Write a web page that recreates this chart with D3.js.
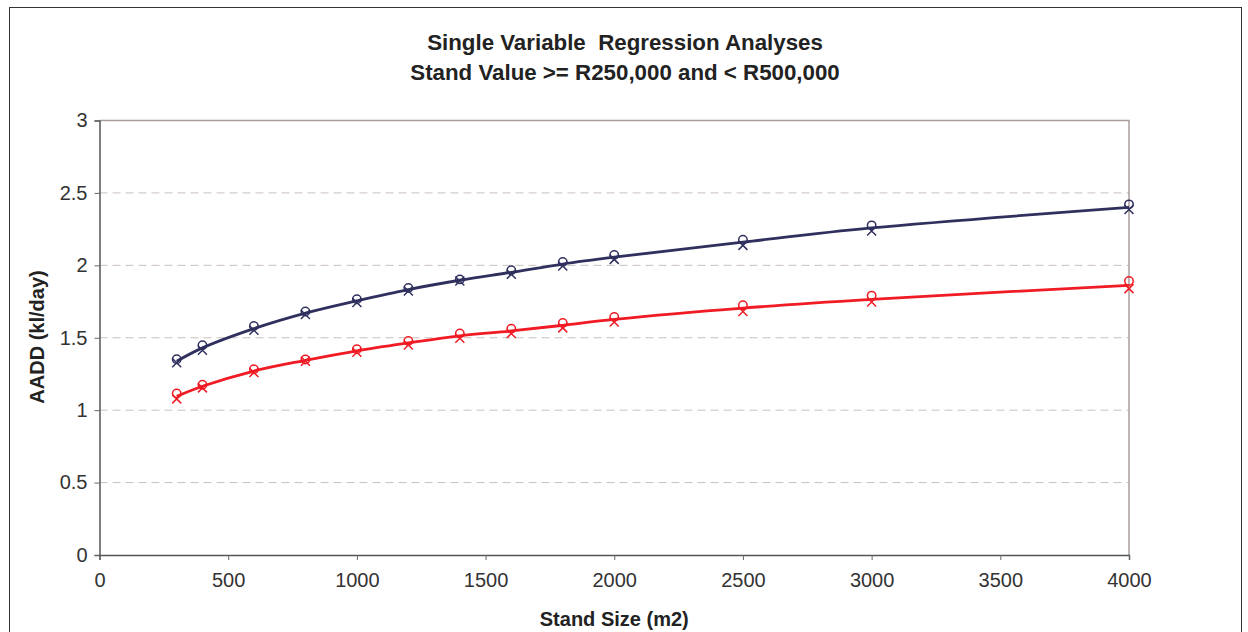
<!DOCTYPE html>
<html><head><meta charset="utf-8">
<script src="https://cdn.jsdelivr.net/npm/d3@7"></script>
<style>
html,body{margin:0;padding:0;background:#fff;}
svg{display:block;font-family:"Liberation Sans",Arial,sans-serif;}
</style></head>
<body><svg id="chart" width="1248" height="632"></svg>
<script>
const titleLines = ["Single Variable  Regression Analyses", "Stand Value >= R250,000 and < R500,000"];
const xTitle = "Stand Size (m2)";
const yTitle = "AADD (kl/day)";
const xTicks = [0, 500, 1000, 1500, 2000, 2500, 3000, 3500, 4000];
const yTicks = [0, 0.5, 1, 1.5, 2, 2.5, 3];

const standSizes = [300, 400, 600, 800, 1000, 1200, 1400, 1600, 1800, 2000, 2500, 3000, 4000];
const blueCircles = [1.352, 1.448, 1.581, 1.681, 1.766, 1.844, 1.903, 1.966, 2.023, 2.071, 2.177, 2.276, 2.421];
const blueCrosses = [1.327, 1.414, 1.552, 1.660, 1.743, 1.823, 1.892, 1.938, 1.995, 2.041, 2.138, 2.237, 2.386];
const redCircles  = [1.115, 1.175, 1.283, 1.350, 1.421, 1.478, 1.529, 1.563, 1.602, 1.644, 1.724, 1.791, 1.892];
const redCrosses  = [1.078, 1.154, 1.260, 1.338, 1.400, 1.450, 1.497, 1.529, 1.568, 1.609, 1.681, 1.747, 1.839];
const blueLine    = [1.338, 1.430, 1.563, 1.670, 1.755, 1.833, 1.897, 1.952, 2.009, 2.056, 2.160, 2.258, 2.400];
const redLine     = [1.095, 1.165, 1.270, 1.344, 1.410, 1.464, 1.513, 1.547, 1.586, 1.627, 1.705, 1.765, 1.862];

const svg = d3.select("#chart");
const L = 99.5, R = 1129, T = 120.5, B = 555;
const x = d3.scaleLinear().domain([0, 4000]).range([L, R]);
const y = d3.scaleLinear().domain([0, 3]).range([B, T]);

// outer frame
svg.append("rect").attr("x", 9.5).attr("y", 7.5).attr("width", 1232).attr("height", 640)
  .attr("fill", "#fff").attr("stroke", "#333").attr("stroke-width", 1);

// gridlines
svg.append("g").selectAll("line").data(yTicks.filter(v => v > 0 && v < 3)).join("line")
  .attr("x1", L).attr("x2", R).attr("y1", d => y(d)).attr("y2", d => y(d))
  .attr("stroke", "#c9c1bd").attr("stroke-width", 1).attr("stroke-dasharray", "8,5");

// plot border top/right
svg.append("path").attr("d", `M${L},${T}H${R}V${B}`).attr("fill", "none")
  .attr("stroke", "#a89e9c").attr("stroke-width", 1.5);

// axes
const gx = svg.append("g").attr("transform", `translate(0,${B})`)
  .call(d3.axisBottom(x).tickValues(xTicks).tickSize(5).tickPadding(13).tickFormat(d3.format("d")));
const gy = svg.append("g").attr("transform", `translate(${L},0)`)
  .call(d3.axisLeft(y).tickValues(yTicks).tickSize(5).tickPadding(7).tickFormat(d => String(d)));
[gx, gy].forEach(g => {
  g.select(".domain").attr("stroke", "#555").attr("stroke-width", 1.5);
  g.selectAll(".tick line").attr("stroke", "#666");
  g.selectAll(".tick text").attr("fill", "#333").attr("font-size", "20px")
    .attr("font-family", "Liberation Sans, Arial, sans-serif");
});

// lines
const lineGen = d3.line().x((d, i) => x(standSizes[i])).y(d => y(d)).curve(d3.curveCatmullRom.alpha(0.5));
svg.append("path").datum(blueLine).attr("d", lineGen).attr("fill", "none")
  .attr("stroke", "#30305f").attr("stroke-width", 2.8);
svg.append("path").datum(redLine).attr("d", lineGen).attr("fill", "none")
  .attr("stroke", "#f01b24").attr("stroke-width", 2.8);

function circles(vals, color) {
  svg.append("g").selectAll("circle").data(vals).join("circle")
    .attr("cx", (d, i) => x(standSizes[i])).attr("cy", d => y(d)).attr("r", 4.2)
    .attr("fill", "none").attr("stroke", color).attr("stroke-width", 1.5);
}
function crosses(vals, color) {
  const s = 4.5;
  svg.append("g").selectAll("path").data(vals).join("path")
    .attr("d", (d, i) => {
      const cx = x(standSizes[i]), cy = y(d);
      return `M${cx - s},${cy - s}L${cx + s},${cy + s}M${cx - s},${cy + s}L${cx + s},${cy - s}`;
    })
    .attr("fill", "none").attr("stroke", color).attr("stroke-width", 1.5);
}
circles(blueCircles, "#30305f");
crosses(blueCrosses, "#30305f");
circles(redCircles, "#f01b24");
crosses(redCrosses, "#f01b24");

// titles
const tt = svg.append("text").attr("text-anchor", "middle").attr("font-weight", "bold")
  .attr("font-size", "22.3px").attr("fill", "#222").style("white-space", "pre");
tt.selectAll("tspan").data(titleLines).join("tspan")
  .attr("x", 625).attr("y", (d, i) => 50 + i * 30).text(d => d);

svg.append("text").attr("x", (L + R) / 2).attr("y", 626).attr("text-anchor", "middle")
  .attr("font-weight", "bold").attr("font-size", "20px").attr("fill", "#222").text(xTitle);
svg.append("text").attr("transform", `translate(44,337) rotate(-90)`).attr("text-anchor", "middle")
  .attr("font-weight", "bold").attr("font-size", "20px").attr("fill", "#222").text(yTitle);
</script></body></html>
